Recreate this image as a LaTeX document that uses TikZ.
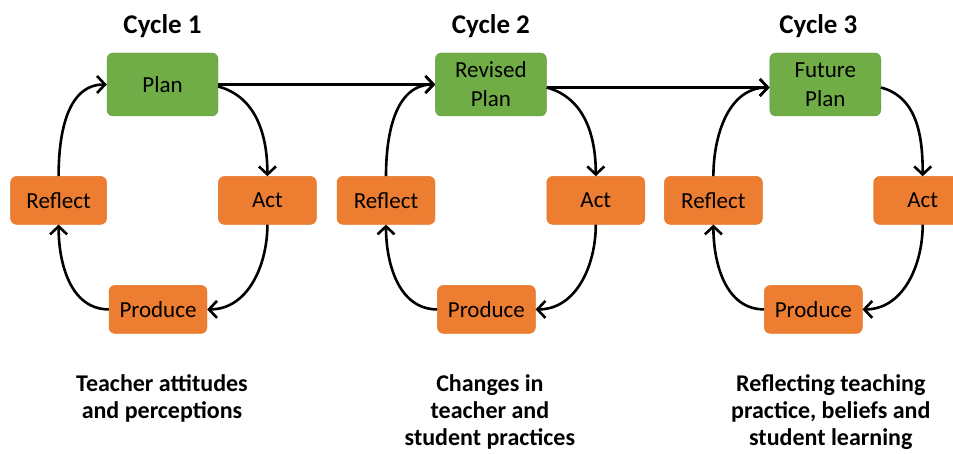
\documentclass[tikz,border=0pt]{standalone}
\usepackage{fontspec}
\setmainfont{Carlito}
\usepackage{xcolor}
\usepackage{tikz}
\usetikzlibrary{positioning, arrows.meta}

\definecolor{planvert}{HTML}{70AD47}
\definecolor{planbord}{HTML}{5E9A3A}
\definecolor{etapeorange}{HTML}{ED7D31}
\definecolor{etapebord}{HTML}{E37428}

\tikzset{
  planbox/.style={draw=planbord, fill=planvert, rounded corners=6pt, minimum width=111pt, minimum height=63pt, align=center, inner sep=2pt, font=\fontsize{23}{29}\selectfont},
  stepbox/.style={draw=etapebord, fill=etapeorange, rounded corners=6pt, minimum width=98pt, minimum height=48pt, inner sep=2pt, font=\fontsize{23}{29}\selectfont},
  cycletitle/.style={inner sep=0pt, font=\bfseries\fontsize{27}{30}\selectfont},
  resume/.style={align=center, inner sep=0pt, font=\bfseries\fontsize{24}{27}\selectfont},
  fleche/.style={->, line width=2.6pt}
}

\begin{document}
\begin{tikzpicture}[x=1pt, y=-1pt, >={Straight Barb[length=8pt, width=17pt]}]
        \useasboundingbox (0,0) rectangle (953,454);

        % Plans (boites vertes)
        \node [planbox] (plan1) at (162.5,84.5) {Plan};
        \node [planbox, right=217pt of plan1] (plan2) {Revised\\Plan};
        \node [planbox, right=223pt of plan2] (plan3) {Future\\Plan};

        % Etapes du cycle 1
        \node [stepbox, below left=60pt and 0pt of plan1, minimum width=96pt] (reflect1) {Reflect};
        \node [stepbox, below right=60pt and 0pt of plan1] (act1) {Act};
        \node [stepbox, below=169pt of plan1, xshift=-4.5pt] (produce1) {Produce};

        % Etapes du cycle 2
        \node [stepbox, below left=60pt and 0pt of plan2] (reflect2) {Reflect};
        \node [stepbox, below right=60pt and 0pt of plan2] (act2) {Act};
        \node [stepbox, below=169pt of plan2, xshift=-4.5pt] (produce2) {Produce};

        % Etapes du cycle 3
        \node [stepbox, below left=60pt and 7pt of plan3] (reflect3) {Reflect};
        \node [stepbox, below right=60pt and -7.5pt of plan3] (act3) {Act};
        \node [stepbox, below=169pt of plan3, xshift=-12pt] (produce3) {Produce};

        % Titres
        \node [cycletitle, above=15pt of plan1] (titre1) {Cycle 1};
        \node [cycletitle, above=15pt of plan2] (titre2) {Cycle 2};
        \node [cycletitle, above=15pt of plan3, xshift=-7pt] (titre3) {Cycle 3};

        % Textes du bas
        \node [resume, below=41pt of produce1, xshift=4pt] (resume1) {Teacher attitudes\\and perceptions};
        \node [resume, below=41pt of produce2, xshift=3.5pt] (resume2) {Changes in\\teacher and\\student practices};
        \node [resume, below=41pt of produce3, xshift=17.5pt] (resume3) {Reflecting teaching\\practice, beliefs and\\student learning};

        % Fleches entre les cycles
        \draw [fleche] (plan1.east) -- (plan2.west);
        \draw [fleche] ([yshift=-3pt]plan2.east) -- ([yshift=-3pt]plan3.west);

        % Fleches courbees du cycle 1
        \draw [fleche] ([yshift=-2pt]plan1.east) to [out=-15, in=90] (act1.north);
        \draw [fleche] (act1.south) to [out=-90, in=0] (produce1.east);
        \draw [fleche] (produce1.west) to [out=180, in=-90] (reflect1.south);
        \draw [fleche] (reflect1.north) to [out=90, in=180] (plan1.west);

        % Fleches courbees du cycle 2
        \draw [fleche] ([yshift=-3pt]plan2.east) to [out=-15, in=90] (act2.north);
        \draw [fleche] (act2.south) to [out=-90, in=0] (produce2.east);
        \draw [fleche] (produce2.west) to [out=180, in=-90] (reflect2.south);
        \draw [fleche] (reflect2.north) to [out=90, in=180] (plan2.west);

        % Fleches courbees du cycle 3
        \draw [fleche] ([yshift=-3pt]plan3.east) to [out=-15, in=90] (act3.north);
        \draw [fleche] (act3.south) to [out=-90, in=0] (produce3.east);
        \draw [fleche] (produce3.west) to [out=180, in=-90] (reflect3.south);
        \draw [fleche] (reflect3.north) to [out=90, in=180] ([yshift=-3pt]plan3.west);

    \end{tikzpicture}
\end{document}
